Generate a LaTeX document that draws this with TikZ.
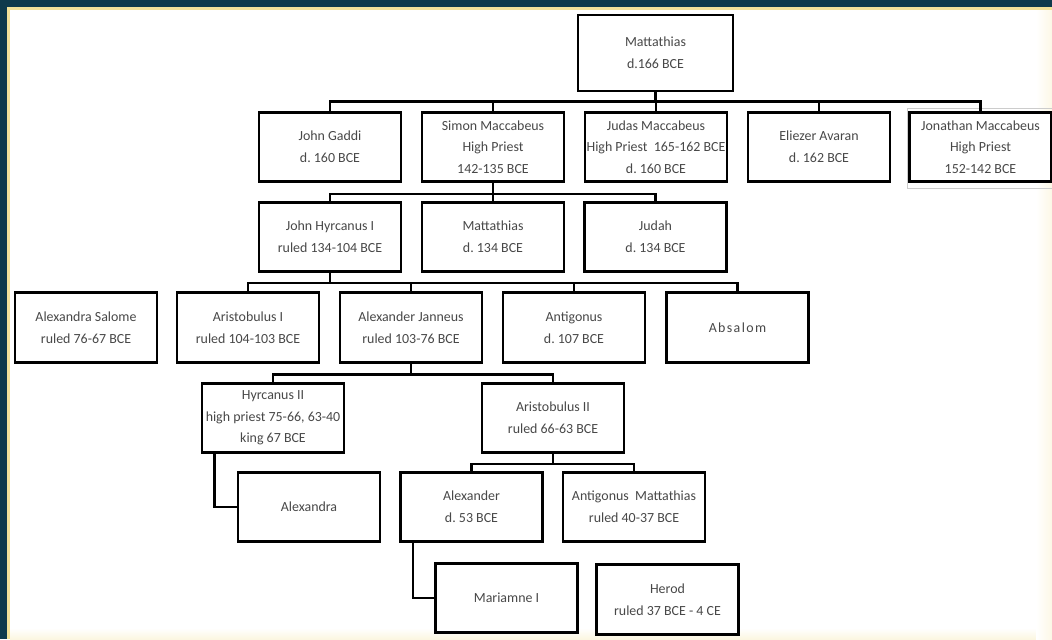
\documentclass[tikz,border=0pt]{standalone}
\usepackage{fontspec}
\setmainfont{Carlito}
\newfontfamily\spacedfont[LetterSpace=10]{Carlito}
\usepackage{tikz}
\frenchspacing
\definecolor{frameteal}{HTML}{0F3A4C}
\definecolor{frameyellow}{HTML}{F3E29A}
\definecolor{boxtext}{HTML}{484848}

\begin{document}
\begin{tikzpicture}[x=0.025cm, y=-0.025cm,
	every node/.style={font=\fontsize{9.9}{15.4}\selectfont},
	person/.style={draw, line width=2pt, fill=white, text=boxtext, align=center, inner sep=0.5pt,
		minimum width=3.55cm, minimum height=1.74cm},
	link/.style={line width=1.8pt}]
	\useasboundingbox (0,0) rectangle (1052,639);
	\fill[white] (0,0) rectangle (1052,639);
	\shade[top color=white, bottom color=frameyellow!30] (10,628) rectangle (1052,639);
	\shade[left color=white, right color=frameyellow!25] (1036,10) rectangle (1052,639);
	\fill[frameyellow] (0,0) rectangle (1052,10);
	\fill[frameyellow] (0,0) rectangle (10,639);
	\fill[frameteal] (0,0) rectangle (1052,7);
	\fill[frameteal] (0,0) rectangle (7,639);
	\draw[gray!40, line width=0.6pt] (907,108) rectangle (1056,188);

	\node[person, minimum width=3.875cm, minimum height=1.9cm] (mattathias) at (655.5,53) {Mattathias\\ d.166 BCE};

	\node[person] (gaddi) at (330,147) {John Gaddi\\ d. 160 BCE};
	\node[person] (simon) at (493,147) {Simon Maccabeus\\ High Priest\\ 142-135 BCE};
	\node[person] (judas) at (656,147) {Judas Maccabeus\\ High Priest\ \ 165-162 BCE\\ d. 160 BCE};
	\node[person] (eliezer) at (819,147) {Eliezer Avaran\\ d. 162 BCE};
	\node[person] (jonathan) at (980.5,147) {Jonathan Maccabeus\\ High Priest\\ 152-142 BCE};

	\node[person] (hyrcanus) at (330,237) {John Hyrcanus I\\ ruled 134-104 BCE};
	\node[person] (mattson) at (493,237) {Mattathias\\ d. 134 BCE};
	\node[person] (judah) at (655.5,237) {Judah\\ d. 134 BCE};

	\node[person] (salome) at (86,327.5) {Alexandra Salome\\ ruled 76-67 BCE};
	\node[person] (aristobulus) at (248,327.5) {Aristobulus I\\ ruled 104-103 BCE};
	\node[person] (janneus) at (411,327.5) {Alexander Janneus\\ ruled 103-76 BCE};
	\node[person] (antigonus) at (574,327.5) {Antigonus\\ d. 107 BCE};
	\node[person] (absalom) at (737.5,327.5) {\spacedfont Absalom};

	\node[person] (hyrcanusii) at (273,418) {Hyrcanus II\\ high priest 75-66, 63-40\\ king 67 BCE};
	\node[person] (aristobulusii) at (553,418) {Aristobulus II\\ ruled 66-63 BCE};

	\node[person] (alexandra) at (309,507) {Alexandra};
	\node[person] (alexander) at (471.5,507) {Alexander\\ d. 53 BCE};
	\node[person] (antigonusm) at (634,507) {Antigonus\ \ Mattathias\\ ruled 40-37 BCE};

	\node[person] (mariamne) at (506.5,598) {Mariamne I};
	\node[person] (herod) at (667.5,599.5) {Herod\\ ruled 37 BCE - 4 CE};

	\foreach \c in {gaddi,simon,judas,eliezer,jonathan}
		\draw[link] (mattathias.south) -- ++(0,9) -| (\c.north);
	\foreach \c in {hyrcanus,mattson,judah}
		\draw[link] (simon.south) -- ++(0,11) -| (\c.north);
	\foreach \c in {aristobulus,janneus,antigonus,absalom}
		\draw[link] (hyrcanus.south) -- ++(0,10) -| (\c.north);
	\foreach \c in {hyrcanusii,aristobulusii}
		\draw[link] (janneus.south) -- ++(0,11) -| (\c.north);
	\foreach \c in {alexander,antigonusm}
		\draw[link] (aristobulusii.south) -- ++(0,10) -| (\c.north);
	\draw[link] ([xshift=0.35cm]hyrcanusii.south west) |- (alexandra.west);
	\draw[link] ([xshift=0.35cm]alexander.south west) |- (mariamne.west);
\end{tikzpicture}
\end{document}
